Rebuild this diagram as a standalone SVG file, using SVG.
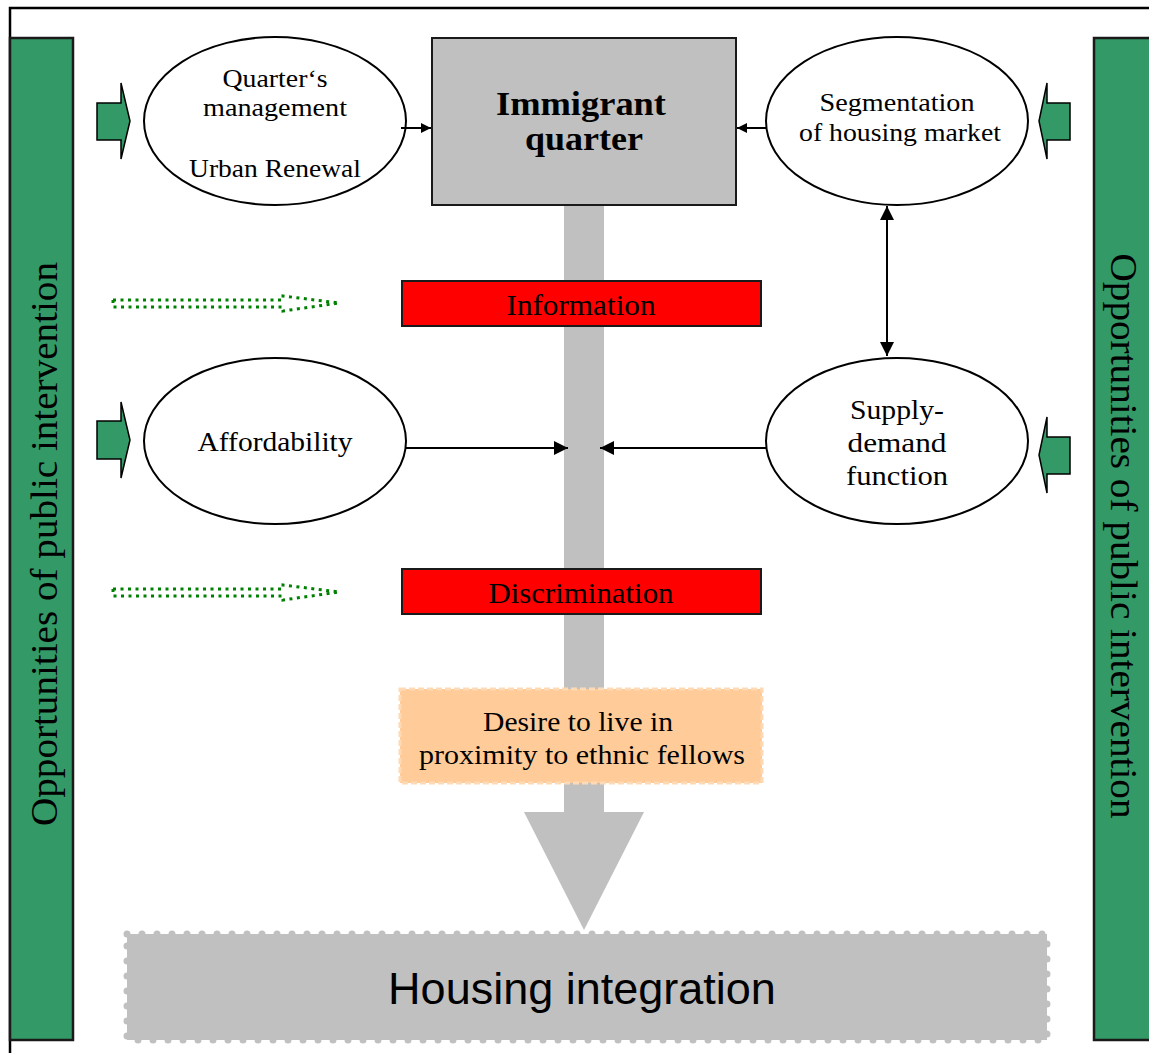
<svg xmlns="http://www.w3.org/2000/svg" width="1149" height="1053" viewBox="0 0 1149 1053">
<defs>
<style>
.serif{font-family:"Liberation Serif","DejaVu Serif",serif;fill:#000}
.sans{font-family:"Liberation Sans",Arial,sans-serif;fill:#000}
.ell{fill:#fff;stroke:#000;stroke-width:2}
.bar{fill:#339966;stroke:#1a1a1a;stroke-width:2.5}
.blk{fill:#339966;stroke:#000;stroke-width:1.5}
.red{fill:#ff0000;stroke:#1a1a1a;stroke-width:2}
.dot{fill:none;stroke:#008000;stroke-width:3;stroke-dasharray:3 4.5}
.con{stroke:#000;stroke-width:2;fill:none}
</style>
<marker id="ah" viewBox="0 0 10 10" refX="10" refY="5" markerWidth="10" markerHeight="10" markerUnits="userSpaceOnUse" orient="auto-start-reverse"><path d="M0,0 L10,5 L0,10 z" fill="#000"/></marker>
<marker id="ah2" viewBox="0 0 10 10" refX="10" refY="5" markerWidth="14" markerHeight="14" markerUnits="userSpaceOnUse" orient="auto-start-reverse"><path d="M0,0 L10,5 L0,10 z" fill="#000"/></marker>
</defs>
<rect x="0" y="0" width="1149" height="1053" fill="#fff"/>
<g id="frame">
<path d="M10,1053 L10,8 L1149,8" fill="none" stroke="#000" stroke-width="2.5"/>
</g>
<g id="left-bar">
<rect class="bar" x="10" y="38" width="63" height="1002"/>
<text class="serif" font-size="37" text-anchor="middle" transform="translate(57,544) rotate(-90)" textLength="564" lengthAdjust="spacingAndGlyphs">Opportunities of public intervention</text>
</g>
<g id="right-bar">
<rect class="bar" x="1094" y="38" width="60" height="1002"/>
<text class="serif" font-size="37" text-anchor="middle" transform="translate(1111,536) rotate(90)" textLength="565" lengthAdjust="spacingAndGlyphs">Opportunities of public intervention</text>
</g>
<g id="main-arrow">
<rect x="564" y="205" width="40" height="608" fill="#c0c0c0"/>
<polygon points="524,812 644,812 584,930" fill="#c0c0c0"/>
</g>
<g id="immigrant-quarter">
<rect x="432" y="38" width="304" height="167" fill="#c0c0c0" stroke="#1a1a1a" stroke-width="2"/>
<text class="serif" font-size="34" font-weight="bold" text-anchor="middle" x="581" y="115" textLength="170" lengthAdjust="spacingAndGlyphs">Immigrant</text>
<text class="serif" font-size="34" font-weight="bold" text-anchor="middle" x="584" y="150" textLength="118" lengthAdjust="spacingAndGlyphs">quarter</text>
</g>
<g id="quarters-management">
<ellipse class="ell" cx="275" cy="121" rx="131" ry="84"/>
<text class="serif" font-size="25" text-anchor="middle" x="275" y="87" textLength="105" lengthAdjust="spacingAndGlyphs">Quarter‘s</text>
<text class="serif" font-size="25" text-anchor="middle" x="275" y="116" textLength="144" lengthAdjust="spacingAndGlyphs">management</text>
<text class="serif" font-size="25" text-anchor="middle" x="275" y="177" textLength="172" lengthAdjust="spacingAndGlyphs">Urban Renewal</text>
</g>
<g id="segmentation">
<ellipse class="ell" cx="897" cy="121" rx="131" ry="84"/>
<text class="serif" font-size="25" text-anchor="middle" x="897" y="111" textLength="155" lengthAdjust="spacingAndGlyphs">Segmentation</text>
<text class="serif" font-size="25" text-anchor="middle" x="900" y="141" textLength="202" lengthAdjust="spacingAndGlyphs">of housing market</text>
</g>
<g id="information">
<rect class="red" x="402" y="281" width="359" height="45"/>
<text class="serif" font-size="29" text-anchor="middle" x="581" y="315" textLength="149" lengthAdjust="spacingAndGlyphs">Information</text>
</g>
<g id="affordability">
<ellipse class="ell" cx="275" cy="441" rx="131" ry="83"/>
<text class="serif" font-size="28" text-anchor="middle" x="275" y="451" textLength="155" lengthAdjust="spacingAndGlyphs">Affordability</text>
</g>
<g id="supply-demand">
<ellipse class="ell" cx="897" cy="441" rx="131" ry="83"/>
<text class="serif" font-size="28" text-anchor="middle" x="897" y="419" textLength="94" lengthAdjust="spacingAndGlyphs">Supply-</text>
<text class="serif" font-size="28" text-anchor="middle" x="897" y="452" textLength="99" lengthAdjust="spacingAndGlyphs">demand</text>
<text class="serif" font-size="28" text-anchor="middle" x="897" y="485" textLength="102" lengthAdjust="spacingAndGlyphs">function</text>
</g>
<g id="discrimination">
<rect class="red" x="402" y="569" width="359" height="45"/>
<text class="serif" font-size="29" text-anchor="middle" x="581" y="603" textLength="185" lengthAdjust="spacingAndGlyphs">Discrimination</text>
</g>
<g id="desire">
<rect x="400" y="689" width="362" height="94" fill="#ffcc99" stroke="#ffd9b3" stroke-width="3" stroke-dasharray="6 3"/>
<text class="serif" font-size="28" text-anchor="middle" x="578" y="731" textLength="190" lengthAdjust="spacingAndGlyphs">Desire to live in</text>
<text class="serif" font-size="28" text-anchor="middle" x="582" y="764" textLength="326" lengthAdjust="spacingAndGlyphs">proximity to ethnic fellows</text>
</g>
<g id="housing-integration">
<rect x="127" y="934" width="920" height="106" fill="#c0c0c0" stroke="#c0c0c0" stroke-width="7" stroke-linecap="round" stroke-dasharray="0 15"/>
<text class="sans" font-size="45" text-anchor="middle" x="582" y="1004">Housing integration</text>
</g>
<g id="intervention-arrows">
<polygon class="blk" points="97,103 121,103 121,83 130,121 121,159 121,140 97,140"/>
<polygon class="blk" points="97,421 121,421 121,402 130,440 121,478 121,459 97,459"/>
<polygon class="blk" points="1070,103 1047,103 1047,83 1039,121 1047,159 1047,140 1070,140"/>
<polygon class="blk" points="1070,437 1047,437 1047,417 1039,455 1047,493 1047,474 1070,474"/>
<polygon class="dot" points="113,300 283,300 283,296 339,303 283,311 283,307 113,307"/>
<polygon class="dot" points="113,589 283,589 283,585 339,592 283,600 283,596 113,596"/>
</g>
<g id="connectors">
<line class="con" x1="401" y1="128" x2="431" y2="128" marker-end="url(#ah)"/>
<line class="con" x1="767" y1="128" x2="737" y2="128" marker-end="url(#ah)"/>
<line class="con" x1="887" y1="206" x2="887" y2="356" marker-start="url(#ah2)" marker-end="url(#ah2)"/>
<line class="con" x1="406" y1="448" x2="568" y2="448" marker-end="url(#ah2)"/>
<line class="con" x1="766" y1="448" x2="600" y2="448" marker-end="url(#ah2)"/>
</g>
</svg>
